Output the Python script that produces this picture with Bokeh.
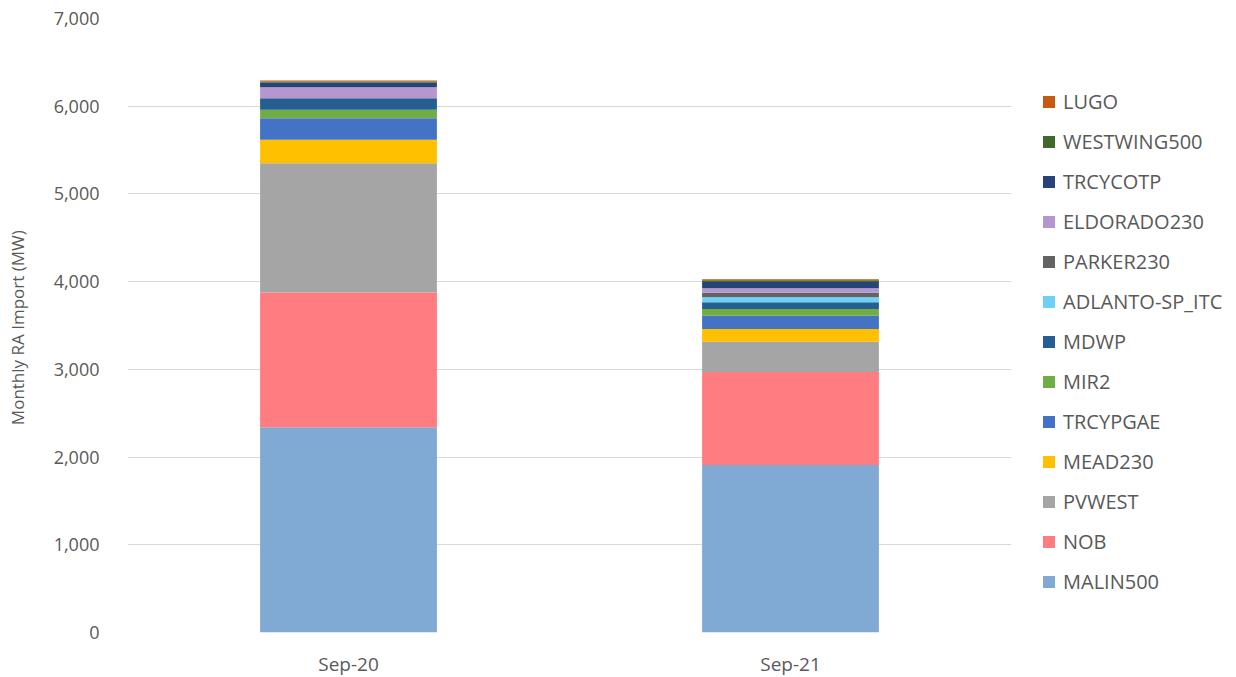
from bokeh.plotting import figure
from bokeh.models import ColumnDataSource, FactorRange, Legend, LegendItem, NumeralTickFormatter, FixedTicker
from bokeh.embed import file_html
from bokeh.resources import INLINE

months = ["Sep-20", "Sep-21"]
series = ["MALIN500", "NOB", "PVWEST", "MEAD230", "TRCYPGAE", "MIR2", "MDWP",
          "ADLANTO-SP_ITC", "PARKER230", "ELDORADO230", "TRCYCOTP", "WESTWING500", "LUGO"]
MALIN500 = [2340, 1910]
NOB = [1535, 1060]
PVWEST = [1475, 346]
MEAD230 = [267, 144]
TRCYPGAE = [246, 152]
MIR2 = [96, 76]
MDWP = [132, 77]
ADLANTO_SP_ITC = [0, 57]
PARKER230 = [0, 52]
ELDORADO230 = [126, 50]
TRCYCOTP = [53, 72]
WESTWING500 = [12, 19]
LUGO = [12, 12]
colors = ["#80AAD3", "#FF7C80", "#A5A5A5", "#FFC000", "#4472C4", "#70AD47", "#255E91",
          "#6FD0F6", "#636363", "#B597CF", "#264478", "#43682B", "#C55A11"]
y_ticks = [0, 1000, 2000, 3000, 4000, 5000, 6000, 7000]

values = [MALIN500, NOB, PVWEST, MEAD230, TRCYPGAE, MIR2, MDWP, ADLANTO_SP_ITC,
          PARKER230, ELDORADO230, TRCYCOTP, WESTWING500, LUGO]
data = {"month": months}
for name, vals in zip(series, values):
    data[name] = vals
source = ColumnDataSource(data)

FONT = "Open Sans"
TXT = "#595959"

p = figure(x_range=FactorRange(*months, range_padding=0), y_range=(0, 7000),
           frame_width=884, frame_height=614, min_border_left=127, min_border_top=18,
           min_border_bottom=30, min_border_right=196,
           output_backend="svg", toolbar_location=None)
p.outline_line_color = None

renderers = p.vbar_stack(series, x="month", width=0.4, color=colors, source=source,
                         line_color=None)

p.xgrid.grid_line_color = None
p.ygrid.grid_line_color = "#D9D9D9"
p.ygrid.grid_line_width = 1

p.yaxis.ticker = FixedTicker(ticks=y_ticks)
p.yaxis.formatter = NumeralTickFormatter(format="0,0")
for ax in [p.xaxis[0], p.yaxis[0]]:
    ax.axis_line_color = None
    ax.major_tick_line_color = None
    ax.minor_tick_line_color = None
    ax.major_label_text_font = FONT
    ax.major_label_text_color = TXT
    ax.major_label_text_font_size = "18px"
p.xaxis.major_label_text_font_size = "19px"
p.yaxis.major_label_standoff = 22
p.xaxis.major_label_standoff = 12
p.yaxis.axis_label = "Monthly RA Import  (MW)"
p.yaxis.axis_label_text_font = FONT
p.yaxis.axis_label_text_font_style = "normal"
p.yaxis.axis_label_text_color = TXT
p.yaxis.axis_label_text_font_size = "17px"
p.yaxis.axis_label_standoff = 22

items = [LegendItem(label=name, renderers=[r]) for name, r in zip(series, renderers)][::-1]
legend = Legend(items=items, location="top_left", orientation="vertical",
                padding=0, margin=0, spacing=12, glyph_width=15, glyph_height=15,
                label_height=28, label_standoff=7,
                label_text_font=FONT, label_text_color=TXT, label_text_font_size="20px",
                border_line_color=None, background_fill_alpha=0)
p.add_layout(legend, "right")
legend.location = (30, 37)

open("out.html", "w").write(file_html(p, INLINE))
